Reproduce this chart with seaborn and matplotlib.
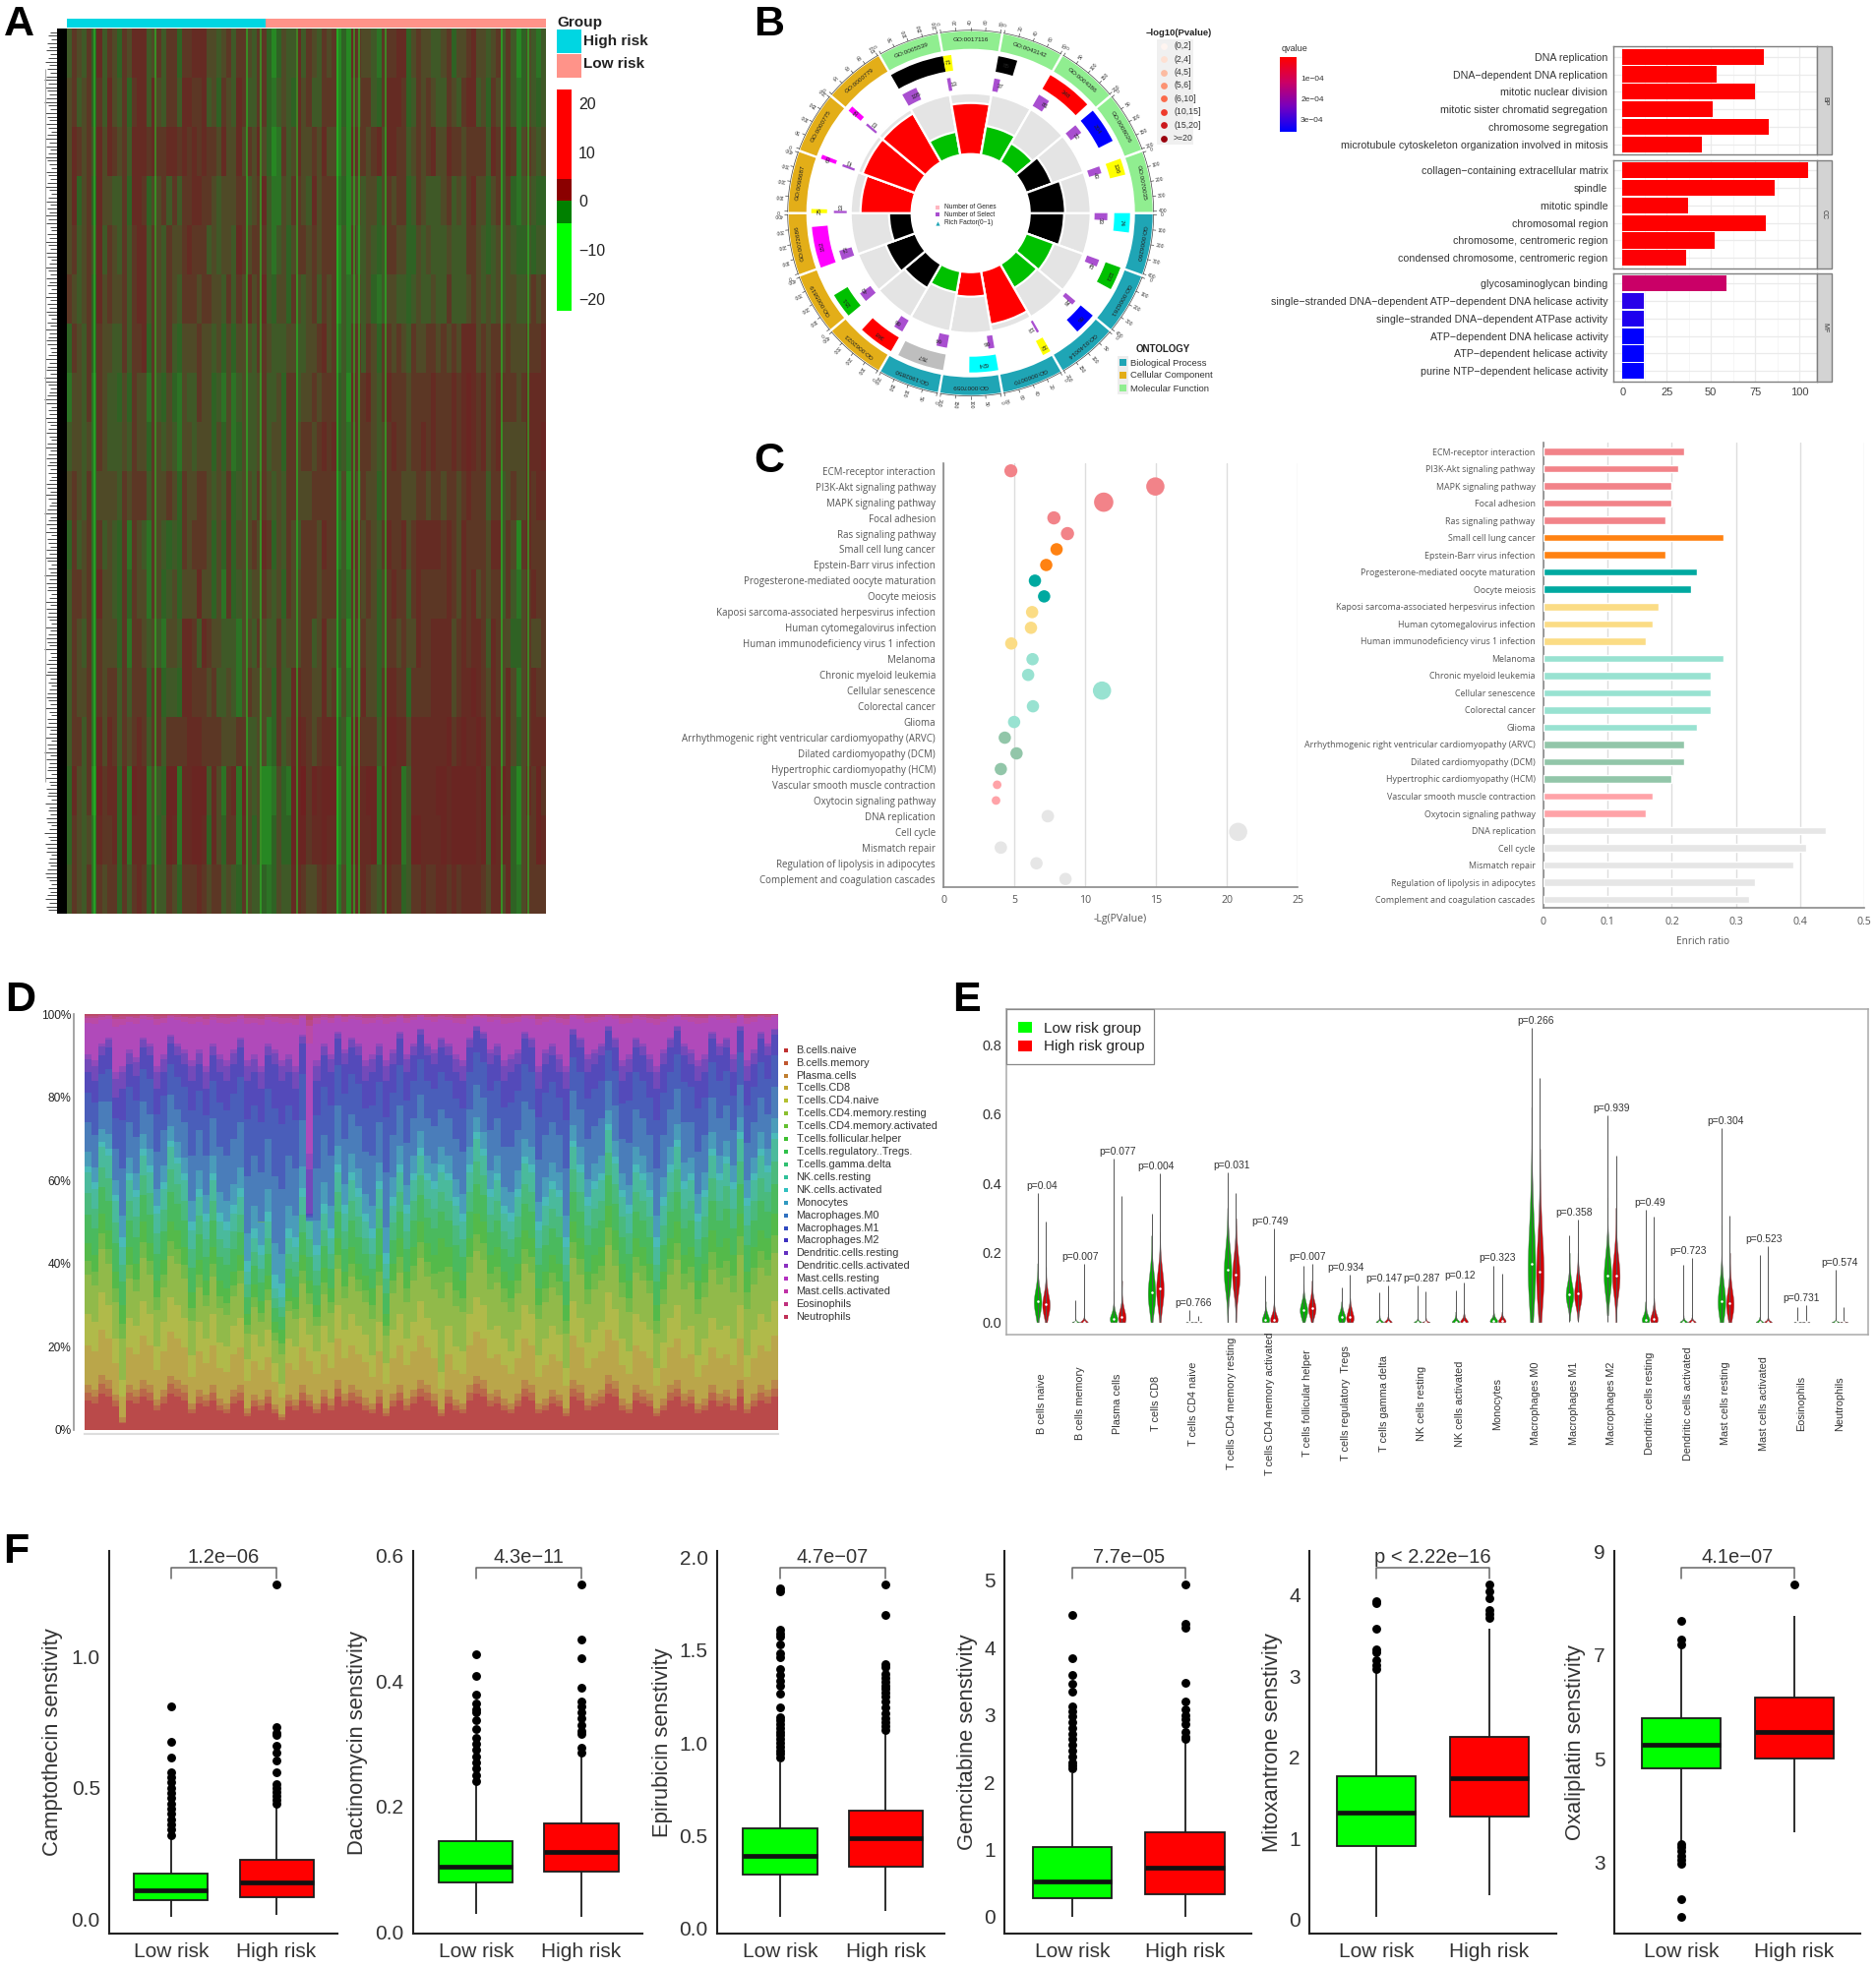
import numpy as np
import pandas as pd
import matplotlib
matplotlib.use("Agg")
import matplotlib.pyplot as plt
import seaborn as sns
from matplotlib.colors import LinearSegmentedColormap, ListedColormap
from matplotlib.patches import Rectangle

W, H = 1907, 2001

# ---- panel A ----
heat_rows = [
    "465463746536577745646636677755456466546631354474654656131765542666773565544563556755456464135424",
    "564563647546367747546647766745365476446632454375644666131656643677763465654465467745365464235434",
    "576564757656477767667767676766575575657531264575565755141766567577664565675576656666476476256545",
    "573563755446377635564646677665455566456742254665475666231554553565663465444564546755356463245433",
    "564564746546467746546556766645455476566642453566565666141644543466553354544454446654345454334344",
    "654563756556467746546546665665546465756743553654564656142554532455443454454464445654545455445656",
    "365463655446466736546435556554535355546654445544556756242664653665654655665656577756566565556667",
    "255462654435365526435325446553425245445644536645565666341766754676665666676667678767567666567777",
    "455452654445465536545425545553535235445645536656656767342666654567665667676667678767567555557778",
    "565462555546566646556536556654546345546654546655566666251656553566655566566566567666466456557677",
    "364562645436265426543436566653536355565763546546665766241765654676675677777676576666577465167666",
    "466562755436365526534535557553526345455654536556665666342665653567664676666676576756566464256766",
    "465462655536266545425547764765544425546544645556645755351656553566565576677775676776476553356556",
    "465562656646466636634437766656445425655553644776655756252657553677663666677775677876576575256766",
    "466462757646567646646666777666655566445523645787656777341776664688775777777786787787577575356777",
    "375461867737287725438827788847526728545112532889687888141887882787724777778878888878487873157686",
    "365452766737277725348727788737536627535113533888677877141887782787724887777878888878487773156687",
    "465462656636467636446536667656645436544323544776556766251677654676634667667767677776577573256666",
]
streak_cols = [5.1, 17.2, 35.6, 38.3, 45.6, 53.7, 57.0, 58.0, 63.3, 86.7, 92.0]
bar_high_n, bar_low_n = 207, 292
dend_lengths = [7, 9, 6, 10, 8, 11, 7, 9, 12, 8, 10, 7, 11, 13, 9, 12, 10, 8, 11, 13, 9, 7, 12, 10, 8, 11, 9, 6, 10, 12,
                8, 11, 7, 9, 12, 10, 8, 6, 11, 9, 7, 10, 12, 8, 6, 9, 11, 7, 10, 8, 12, 9, 11, 7, 6, 10, 8, 12, 9, 7,
                11, 10, 6, 8, 12, 9, 7, 11, 8, 10, 6, 9, 12, 7, 10, 8, 11, 9, 6, 10, 7, 12, 8, 9, 11, 10, 7, 6, 9, 12,
                8, 10, 11, 7, 13, 12, 9, 7, 8, 10, 13, 11, 6, 9, 8, 12, 10, 7, 9, 11, 8, 6, 10, 12, 7, 9, 11, 8, 10, 7,
                9, 6, 8, 11, 10, 7, 12, 9, 6, 8, 10, 13, 7, 9, 11, 8, 12, 6, 10, 9, 7, 11, 8, 12, 10, 6, 9, 7, 13, 8,
                11, 9, 10, 6, 8, 12, 7, 11, 9, 10, 8, 6, 12, 7, 9, 11, 10, 8, 13, 7, 6, 9, 11, 8, 10, 12, 7, 9, 6, 8,
                10, 11, 9, 7, 12, 8, 6, 10, 9, 11, 7, 8, 12, 6, 10, 9, 13, 7, 11, 8, 9, 10, 6, 12, 8, 7, 11, 9, 10, 6,
                12, 8, 9, 7, 11, 10, 6, 8, 13, 9, 7, 12, 10, 11, 6, 8, 9, 7, 10, 12, 11, 8, 6, 9, 7, 10, 12, 8, 11, 9]
cbar_edges = [-22.4, -4.6, 0, 4.6, 22.8]
cbar_colors = ["#00FF00", "#008000", "#8B0000", "#FF0000"]

# ---- panel B circle, clockwise from 3 o'clock ----
go_ids = ["GO:0006260", "GO:0006261", "GO:0140014", "GO:0000070", "GO:0007059", "GO:1902850",
          "GO:0062023", "GO:0005819", "GO:0072686", "GO:0098687", "GO:0000775", "GO:0000779",
          "GO:0005539", "GO:0017116", "GO:0043142", "GO:0004386", "GO:0008026", "GO:0070035"]
ring_colors = ["#1FA5B5"] * 6 + ["#E3AE18"] * 6 + ["#90EE90"] * 6
rich_tops = [95, 90, 88, 115, 85, 82, 88, 92, 83, 112, 117, 117, 84, 112, 90, 82, 88, 96]
rich_colors = ["black", "#00C000", "#00C000", "red", "red", "#00C000", "black", "black", "black",
               "red", "red", "red", "#00C000", "red", "#00C000", "#00C000", "black", "black"]
gene_widths = [7, 8.5, 8, 3, 10.5, 17, 13, 9, 15, 1.5, 1.5, 2, 20, 3, 7, 17, 13, 6]
gene_colors = ["cyan", "#00C000", "blue", "yellow", "cyan", "#BEBEBE", "red", "#00C000", "magenta",
               "yellow", "magenta", "magenta", "black", "yellow", "black", "red", "blue", "yellow"]
gene_labels = ["74", "133", "86", "32", "624", "767", "348", "151", "152", "25", "60", "55", "", "71", "85", "348", "204", "136"]
select_widths = [3, 3, 2, 1, 2.5, 4.5, 4, 4, 4, 1, 1, 1, 6.5, 1.5, 2.5, 5, 4, 3]
select_labels = ["33", "42", "28", "13", "66", "64", "66", "43", "73", "13", "12", "13", "105", "13", "37", "81", "72", "43"]
ring_tick_labels = [["0", "100", "200", "300", "400"], ["0", "100", "200", "300", "400"], ["0", "50", "100", "150", "200"],
                    ["0", "20", "40", "60", "80"], ["0", "50", "100", "150", "200"], ["0", "50", "100", "150", "200"],
                    ["0", "100", "200", "300", "400"], ["0", "100", "200", "300", "400"], ["0", "100", "200", "300", "400"],
                    ["0", "100", "200", "300", "400"], ["0", "50", "100", "150", "200"], ["0", "30", "60", "90", "120"],
                    ["0", "50", "100", "150", "200"], ["0", "20", "40", "60", "80"], ["0", "20", "40", "60", "80"],
                    ["0", "50", "100", "150", "200"], ["0", "50", "100", "150", "200"], ["0", "100", "200", "300", "400"]]
pval_levels = ["(0,2]", "(2,4]", "(4,5]", "(5,6]", "(6,10]", "(10,15]", "(15,20]", ">=20"]
pval_colors = ["#FFF5F0", "#FEE0D2", "#FCBBA1", "#FC9272", "#FB6A4A", "#EF3B2C", "#CB181D", "#99000D"]
ontology_names = ["Biological Process", "Cellular Component", "Molecular Function"]
ontology_colors = ["#1FA5B5", "#E3AE18", "#90EE90"]

# ---- panel B bars ----
go_bp = ["DNA replication", "DNA\u2212dependent DNA replication", "mitotic nuclear division",
         "mitotic sister chromatid segregation", "chromosome segregation",
         "microtubule cytoskeleton organization involved in mitosis"]
go_cc = ["collagen\u2212containing extracellular matrix", "spindle", "mitotic spindle", "chromosomal region",
         "chromosome, centromeric region", "condensed chromosome, centromeric region"]
go_mf = ["glycosaminoglycan binding", "single\u2212stranded DNA\u2212dependent ATP\u2212dependent DNA helicase activity",
         "single\u2212stranded DNA\u2212dependent ATPase activity", "ATP\u2212dependent DNA helicase activity",
         "ATP\u2212dependent helicase activity", "purine NTP\u2212dependent helicase activity"]
count_bp = [80, 53, 75, 51, 83, 45]
count_cc = [105, 86, 37, 81, 52, 36]
count_mf = [59, 12, 12, 12, 12, 12]
q_bp = [0.01, 0.01, 0.01, 0.01, 0.01, 0.02]
q_cc = [0.01, 0.01, 0.02, 0.01, 0.02, 0.06]
q_mf = [1.2, 3.1, 3.2, 3.5, 3.5, 3.5]

# ---- panel C ----
pathways = ["ECM-receptor interaction", "PI3K-Akt signaling pathway", "MAPK signaling pathway", "Focal adhesion",
            "Ras signaling pathway", "Small cell lung cancer", "Epstein-Barr virus infection",
            "Progesterone-mediated oocyte maturation", "Oocyte meiosis", "Kaposi sarcoma-associated herpesvirus infection",
            "Human cytomegalovirus infection", "Human immunodeficiency virus 1 infection", "Melanoma",
            "Chronic myeloid leukemia", "Cellular senescence", "Colorectal cancer", "Glioma",
            "Arrhythmogenic right ventricular cardiomyopathy (ARVC)", "Dilated cardiomyopathy (DCM)",
            "Hypertrophic cardiomyopathy (HCM)", "Vascular smooth muscle contraction", "Oxytocin signaling pathway",
            "DNA replication", "Cell cycle", "Mismatch repair", "Regulation of lipolysis in adipocytes",
            "Complement and coagulation cascades"]
path_lgp = [4.74, 14.95, 11.3, 7.78, 8.74, 7.97, 7.24, 6.44, 7.09, 6.24, 6.16, 4.77, 6.27, 5.96, 11.18, 6.3, 4.97,
            4.31, 5.14, 4.03, 3.77, 3.69, 7.35, 20.8, 4.03, 6.55, 8.6]
path_counts = [68, 142, 160, 70, 70, 60, 60, 60, 60, 60, 60, 60, 60, 60, 142, 60, 60, 60, 60, 60, 25, 25, 62, 142, 62, 60, 60]
path_ratio = [.22, .21, .20, .20, .19, .28, .19, .24, .23, .18, .17, .16, .28, .26, .26, .26, .24, .22, .22, .20, .17, .16,
              .44, .41, .39, .33, .32]
path_group_sizes = [5, 2, 2, 3, 5, 3, 2, 5]
path_group_colors = ["#F28389", "#FF8212", "#00A9A0", "#FBDC85", "#98E2D1", "#92C6A9", "#FFA3A8", "#E6E6E6"]

# ---- panel D ----
cell_names = ["B.cells.naive", "B.cells.memory", "Plasma.cells", "T.cells.CD8", "T.cells.CD4.naive",
              "T.cells.CD4.memory.resting", "T.cells.CD4.memory.activated", "T.cells.follicular.helper",
              "T.cells.regulatory..Tregs.", "T.cells.gamma.delta", "NK.cells.resting", "NK.cells.activated", "Monocytes",
              "Macrophages.M0", "Macrophages.M1", "Macrophages.M2", "Dendritic.cells.resting",
              "Dendritic.cells.activated", "Mast.cells.resting", "Mast.cells.activated", "Eosinophils", "Neutrophils"]
cell_band = [0, 0, 1, 1, 1, 2, 2, 2, 3, 3, 3, 4, 4, 4, 4, 4, 5, 5, 5, 5, 5, 5]
cell_share = [.8, .2, .1, .5, .4, .55, .2, .25, .4, .3, .3, .06, .14, .3, .3, .2, .22, .08, .55, .09, .03, .03]
top_red = [9, 8, 11, 10, 7, 2, 9, 8, 10, 9, 6, 8, 11, 10, 9, 5, 8, 7, 9, 6,
           5, 8, 9, 4, 7, 6, 8, 5, 3, 7, 6, 9, 7, 5, 8, 6, 10, 7, 9, 8,
           6, 5, 8, 4, 7, 9, 6, 8, 10, 9, 7, 4, 8, 6, 5, 9, 11, 10, 7, 8,
           6, 5, 7, 10, 9, 5, 6, 8, 7, 4, 10, 9, 6, 7, 8, 11, 10, 6, 5, 9,
           8, 7, 4, 6, 9, 10, 7, 8, 5, 6, 9, 7, 8, 6, 10, 5, 7, 9, 8, 10]
top_olive = [28, 26, 33, 30, 22, 12, 27, 25, 31, 28, 20, 26, 32, 30, 27, 18, 26, 22, 28, 21,
             20, 25, 27, 17, 23, 20, 24, 16, 11, 22, 20, 27, 23, 19, 25, 21, 30, 24, 28, 25,
             23, 18, 26, 16, 24, 28, 22, 26, 31, 27, 24, 14, 25, 20, 19, 28, 32, 30, 24, 25,
             22, 19, 24, 30, 28, 18, 22, 25, 23, 15, 31, 27, 21, 24, 26, 33, 29, 22, 19, 28,
             26, 24, 15, 21, 27, 30, 24, 25, 18, 22, 27, 24, 25, 22, 30, 18, 24, 28, 26, 31]
top_green = [45, 42, 52, 48, 38, 30, 44, 40, 50, 45, 36, 41, 50, 48, 44, 33, 41, 36, 44, 36,
             34, 38, 42, 28, 35, 31, 37, 26, 24, 34, 32, 42, 36, 30, 39, 34, 46, 38, 44, 40,
             37, 34, 42, 28, 40, 46, 38, 44, 50, 45, 42, 46, 44, 38, 36, 46, 52, 50, 42, 44,
             38, 36, 40, 48, 46, 34, 38, 42, 40, 30, 50, 46, 38, 42, 44, 54, 48, 40, 36, 46,
             44, 40, 30, 38, 46, 50, 42, 44, 36, 40, 48, 44, 46, 42, 52, 38, 44, 48, 46, 52]
top_teal = [62, 58, 68, 66, 55, 44, 60, 56, 66, 62, 52, 58, 68, 64, 60, 48, 56, 50, 60, 50,
            48, 52, 56, 38, 46, 42, 50, 34, 32, 46, 44, 56, 50, 42, 52, 46, 62, 52, 60, 56,
            50, 46, 58, 40, 54, 62, 52, 60, 66, 60, 58, 62, 60, 54, 50, 62, 70, 66, 56, 60,
            52, 50, 56, 64, 62, 48, 54, 58, 56, 44, 68, 62, 54, 58, 60, 72, 64, 56, 52, 62,
            60, 56, 44, 54, 62, 68, 58, 60, 50, 56, 66, 60, 64, 58, 70, 54, 60, 66, 62, 70]
top_blue = [86, 84, 90, 92, 80, 82, 88, 85, 92, 90, 82, 86, 93, 90, 88, 84, 88, 82, 90, 86,
            84, 88, 92, 84, 86, 82, 90, 88, 84, 86, 82, 93, 52, 84, 90, 86, 94, 88, 92, 90,
            84, 86, 90, 84, 88, 94, 86, 90, 95, 90, 88, 92, 90, 86, 84, 92, 96, 94, 88, 90,
            84, 86, 88, 94, 92, 82, 88, 90, 86, 82, 95, 92, 86, 88, 90, 96, 92, 84, 86, 92,
            90, 86, 82, 88, 92, 96, 90, 88, 84, 86, 94, 90, 92, 86, 96, 84, 88, 94, 90, 95]

# ---- panel E ----
immune_names = ["B cells naive", "B cells memory", "Plasma cells", "T cells CD8", "T cells CD4 naive",
                "T cells CD4 memory resting", "T cells CD4 memory activated", "T cells follicular helper",
                "T cells regulatory  Tregs", "T cells gamma delta", "NK cells resting", "NK cells activated", "Monocytes",
                "Macrophages M0", "Macrophages M1", "Macrophages M2", "Dendritic cells resting",
                "Dendritic cells activated", "Mast cells resting", "Mast cells activated", "Eosinophils", "Neutrophils"]
immune_p = ["0.04", "0.007", "0.077", "0.004", "0.766", "0.031", "0.749", "0.007", "0.934", "0.147", "0.287", "0.12",
            "0.323", "0.266", "0.358", "0.939", "0.49", "0.723", "0.304", "0.523", "0.731", "0.574"]
low_max = [.372, .064, .471, .313, .034, .433, .135, .164, .099, .086, .107, .091, .164, .849, .25, .596, .324, .165, .561, .195, .0435, .151]
high_max = [.291, .168, .364, .43, .017, .372, .27, .168, .137, .107, .09, .114, .14, .704, .296, .48, .305, .185, .308, .22, .05, .0425]
# seven read-off levels of each violin, body_weights says how many samples sit at each level
body_weights = [1, 3, 6, 8, 6, 3, 1]
low_body = [[0, .02, .04, .06, .08, .11, .17], [0, 0, 0, 0, .002, .005, .01], [0, 0, .005, .01, .02, .04, .09],
            [0, .03, .06, .085, .12, .16, .25], [0, 0, 0, 0, 0, .001, .003], [0, .09, .12, .15, .19, .24, .33],
            [0, 0, .004, .008, .02, .03, .06], [0, .01, .025, .035, .05, .07, .11], [0, 0, .007, .015, .025, .04, .06],
            [0, 0, 0, 0, .004, .01, .02], [0, 0, 0, 0, .003, .008, .015], [0, 0, 0, 0, .006, .015, .03],
            [0, 0, 0, .005, .01, .02, .035], [0, .06, .11, .167, .25, .37, .62], [.005, .05, .065, .08, .1, .13, .2],
            [.02, .08, .11, .134, .17, .22, .36], [0, 0, .004, .008, .02, .04, .06], [0, 0, 0, 0, .004, .01, .02],
            [0, .02, .04, .062, .09, .14, .28], [0, 0, 0, 0, .004, .008, .015], [0, 0, 0, 0, 0, .001, .002],
            [0, 0, 0, 0, .002, .005, .012]]
high_body = [[0, .02, .035, .052, .07, .1, .16], [0, 0, 0, 0, .005, .01, .02], [0, 0, .006, .014, .03, .05, .12],
             [0, .04, .07, .097, .13, .17, .26], [0, 0, 0, 0, 0, .001, .003], [0, .08, .11, .137, .17, .22, .3],
             [0, 0, .004, .008, .02, .04, .08], [0, .015, .03, .04, .055, .08, .12], [0, 0, .007, .015, .03, .045, .07],
             [0, 0, 0, 0, .005, .012, .025], [0, 0, 0, 0, .002, .006, .012], [0, 0, 0, .002, .008, .02, .04],
             [0, 0, 0, .005, .01, .018, .03], [0, .05, .1, .147, .22, .32, .5], [.005, .05, .065, .082, .11, .14, .2],
             [0, .08, .11, .134, .17, .22, .33], [0, 0, .005, .01, .025, .045, .07], [0, 0, 0, 0, .004, .01, .022],
             [0, .02, .035, .055, .08, .12, .2], [0, 0, 0, 0, .004, .01, .018], [0, 0, 0, 0, 0, .001, .002],
             [0, 0, 0, 0, .001, .003, .006]]
low_median = [.06, 0, .01, .085, 0, .15, .008, .035, .015, 0, 0, 0, .005, .167, .08, .134, .008, 0, .062, 0, 0, 0]
high_median = [.052, 0, .014, .097, 0, .137, .008, .04, .015, 0, 0, 0, .005, .147, .082, .134, .01, 0, .055, 0, 0, 0]

# ---- panel F: [low whisker, q1, median, q3, high whisker] ----
drug_names = ["Camptothecin", "Dactinomycin", "Epirubicin", "Gemcitabine", "Mitoxantrone", "Oxaliplatin"]
drug_p = ["1.2e\u221206", "4.3e\u221211", "4.7e\u221207", "7.7e\u221205", "p < 2.22e\u221216", "4.1e\u221207"]
drug_low = [[.0075, .0725, .11, .171, .304], [.028, .079, .1045, .144, .234], [.062, .29, .392, .537, .896],
            [0, .278, .52, 1.033, 2.13], [.03, .91, 1.32, 1.77, 3.05], [3.42, 4.81, 5.27, 5.79, 7.15]]
drug_high = [[.016, .084, .139, .226, .43], [.024, .096, .127, .1725, .281], [.095, .334, .484, .634, 1.055],
             [0, .34, .726, 1.25, 2.62], [.3, 1.27, 1.745, 2.25, 3.58], [3.58, 5.01, 5.52, 6.18, 7.75]]
out_low = [[.81, .675, .615, .56, .54, .52, .5, .48, .46, .44, .42, .4, .38, .36, .34, .32],
           [.443, .408, .378, .365, .355, .35, .337, .323, .31, .3, .29, .28, .27, .26, .25, .24],
           [1.83, 1.815, 1.61, 1.59, 1.575, 1.53, 1.48, 1.46, 1.4, 1.365, 1.335, 1.31, 1.263, 1.19, 1.14, 1.12, 1.1, 1.08, 1.06, 1.04, 1.02, 1.0, .98, .96, .94, .92],
           [4.49, 3.85, 3.59, 3.47, 3.35, 3.13, 3.05, 2.98, 2.9, 2.81, 2.72, 2.65, 2.55, 2.47, 2.38, 2.3, 2.25, 2.2],
           [3.92, 3.9, 3.58, 3.33, 3.29, 3.19, 3.14, 3.09],
           [7.65, 7.3, 7.2, 3.36, 3.3, 3.22, 3.13, 3.05, 2.98, 2.29, 1.96]]
out_high = [[1.275, .73, .71, .7, .66, .635, .605, .56, .515, .5, .485, .47, .455, .44],
            [.554, .466, .437, .39, .367, .36, .35, .34, .33, .32, .315, .294, .286],
            [1.853, 1.69, 1.425, 1.41, 1.37, 1.35, 1.33, 1.31, 1.29, 1.27, 1.25, 1.22, 1.19, 1.16, 1.13, 1.11, 1.09, 1.07],
            [4.94, 4.35, 4.3, 3.48, 3.2, 3.08, 3.0, 2.93, 2.86, 2.74, 2.68, 2.64],
            [4.13, 4.04, 3.96, 3.82, 3.77, 3.72],
            [8.36]]
drug_ylim = [(-.056, 1.404), (-.003, .608), (-.028, 2.035), (-.249, 5.44), (-.174, 4.545), (1.636, 9.01)]
drug_ticks = [[0, .5, 1], [0, .2, .4, .6], [0, .5, 1, 1.5, 2], [0, 1, 2, 3, 4, 5], [0, 1, 2, 3, 4], [3, 5, 7, 9]]
drug_tick_fmt = ["%.1f", "%.1f", "%.1f", "%d", "%d", "%d"]
drug_boxes = [(110.8, 343, 173.9), (419.5, 652.8, 483.8), (728.7, 960, 793),
              (1020.8, 1271.7, 1089.8), (1331, 1581.9, 1399), (1640.5, 1891, 1708.9)]
drug_spacing = [107.2, 107.2, 107.2, 114.8, 114.8, 114.8]


def add_axes_px(fig, left, top, right, bottom, **kw):
    return fig.add_axes([left / W, 1 - bottom / H, (right - left) / W, (bottom - top) / H], **kw)


def draw_panel_a(fig, ov):
    ax = add_axes_px(fig, 68, 29, 555, 929)
    ncol = max(len(r) for r in heat_rows)
    mat = np.array([[int(c) for c in r.ljust(ncol, "5")] for r in heat_rows])
    cmap = LinearSegmentedColormap.from_list("heat", [(0.0, "#1FA01F"), (.15, "#2A7E25"), (.33, "#2E6224"), (.5, "#485428"),
                                                      (.72, "#632E24"), (1.0, "#6E2020")])
    sns.heatmap(mat, cmap=cmap, vmin=0, vmax=9, cbar=False, xticklabels=False, yticklabels=False, ax=ax)
    ax.vlines(np.array(streak_cols) + .5, 0, len(heat_rows), color="#25C825", lw=1.1, alpha=.7)

    ax2 = add_axes_px(fig, 68, 19, 555, 28)
    sns.heatmap([[0] * bar_high_n + [1] * bar_low_n], cmap=ListedColormap(["#00D6E2", "#FF9389"]), cbar=False,
                xticklabels=False, yticklabels=False, ax=ax2)

    # row names squeezed into a black strip, dendrogram next to it
    ov.add_patch(Rectangle((58, 29), 10, 900, color="black", lw=0))
    ax3 = add_axes_px(fig, 44, 29, 58, 929)
    ypos = np.arange(len(dend_lengths))
    ax3.hlines(ypos, 14 - np.array(dend_lengths), 14, color="#444444", lw=.7)
    ax3.vlines(1.5, 10, len(dend_lengths) * .85, color="#AAAAAA", lw=.8)
    ax3.set_xlim(0, 14)
    ax3.set_ylim(len(dend_lengths), -1)
    ax3.axis("off")

    ov.text(566, 23, "Group", fontsize=11, fontweight="bold", va="center", color="#222222")
    ov.add_patch(Rectangle((566, 30), 24.6, 24.5, color="#00D6E2", lw=0))
    ov.add_patch(Rectangle((566, 55), 24.6, 24.5, color="#FF9389", lw=0))
    ov.text(593, 42, "High risk", fontsize=11, fontweight="bold", va="center", color="#222222")
    ov.text(593, 65, "Low risk", fontsize=11, fontweight="bold", va="center", color="#222222")

    cax = add_axes_px(fig, 566, 91, 581, 316)
    cax.bar(0, np.diff(cbar_edges), bottom=cbar_edges[:-1], width=1, color=cbar_colors, lw=0)
    cax.set_xlim(-.5, .5)
    cax.set_ylim(cbar_edges[0], cbar_edges[-1])
    cax.set_xticks([])
    cax.set_yticks([-20, -10, 0, 10, 20], ["\u221220", "\u221210", "0", "10", "20"])
    cax.yaxis.tick_right()
    cax.tick_params(axis="y", length=0, pad=5, labelsize=11.5, colors="#222222")
    sns.despine(ax=cax, left=True, bottom=True, right=True, top=True)


def draw_panel_b_circle(fig, ov):
    ax = add_axes_px(fig, 786.7, 16.7, 1186.7, 416.7, projection="polar")
    ax.set_ylim(0, 200)
    ax.axis("off")
    for i in range(18):
        start = -20.0 * i
        mid = start - 10
        # rich factor ring
        ax.bar(np.deg2rad(mid), 62, np.deg2rad(20), bottom=60, color="#E4E4E4", edgecolor="white", lw=1.6)
        ax.bar(np.deg2rad(mid), rich_tops[i] - 60, np.deg2rad(20), bottom=60, color=rich_colors[i], edgecolor="white", lw=1.6)
        # selected genes and all genes, both start from the sector's leading edge
        w = select_widths[i]
        ax.bar(np.deg2rad(start - w / 2), 13, np.deg2rad(w), bottom=126, color="#A94FD0", lw=0)
        w2 = gene_widths[i]
        ax.bar(np.deg2rad(start - w2 / 2), 16, np.deg2rad(w2), bottom=146, color=gene_colors[i], lw=0)
        ax.text(np.deg2rad(start - w / 2 - 2), 132, select_labels[i], fontsize=4.5, ha="center", va="center",
                rotation=start - w / 2 - 90, color="#222222")
        ax.text(np.deg2rad(start - w2 / 2), 154, gene_labels[i], fontsize=4.5, ha="center", va="center",
                rotation=start - w2 / 2 - 90, color="#222222")
        # outer ring with ids and scale
        ax.bar(np.deg2rad(mid), 18, np.deg2rad(19.2), bottom=167, color=ring_colors[i], lw=0)
        ax.text(np.deg2rad(mid), 176, go_ids[i], fontsize=4.6, ha="center", va="center", rotation=mid - 90, color="#222222")
        arc = np.deg2rad(np.linspace(start - .4, start - 19.6, 20))
        ax.plot(arc, np.full(20, 186.0), color="#444444", lw=.5)
        for k in range(5):
            th = start - .6 - 4.7 * k
            ax.plot(np.deg2rad([th, th]), [186, 189], color="#444444", lw=.5)
            ax.text(np.deg2rad(th), 195, ring_tick_labels[i][k], fontsize=3.6, ha="center", va="center",
                    rotation=th, color="#333333")
    # legend in the centre hole
    center_names = ["Number of Genes", "Number of Select", "Rich Factor(0~1)"]
    center_cols = ["#FFB6C1", "#A94FD0", "#1FA5B5"]
    for name, col, y, mk in zip(center_names, center_cols, [210.7, 218.3, 226.7], ["s", "s", "^"]):
        ov.scatter([953], [y], s=9, marker=mk, color=col, lw=0)
        ov.text(960, y, name, fontsize=4.8, va="center", color="#222222")

    ov.text(1198, 33, "\u2212log10(Pvalue)", fontsize=6.8, fontweight="bold", ha="center", va="center", color="#222222")
    ov.add_patch(Rectangle((1176, 40), 37, 107, color="#F0F0F0", lw=0))
    for k, (lev, col) in enumerate(zip(pval_levels, pval_colors)):
        y = 46.7 + 13.43 * k
        ov.scatter([1183], [y], s=24, color=col, lw=0)
        ov.text(1193, y, lev, fontsize=6.3, va="center", color="#333333")
    ov.text(1182.7, 355, "ONTOLOGY", fontsize=7, fontweight="bold", ha="center", va="center", color="#222222")
    for k, (name, col) in enumerate(zip(ontology_names, ontology_colors)):
        y = 369 + 13 * k
        ov.add_patch(Rectangle((1136, y - 6.5), 11, 13, color="#EDEDED", lw=0))
        ov.add_patch(Rectangle((1138, y - 3.5), 7, 7, color=col, lw=0))
        ov.text(1149, y, name, fontsize=6.8, va="center", color="#333333")


def draw_panel_b_bars(fig, ov):
    stops = [(0, "#FF0000"), (.33, "#CD0064"), (.66, "#7800BE"), (1, "#0000FF")]
    cmap = LinearSegmentedColormap.from_list("q", stops)
    frames = [(47.3, 157.3, go_bp, count_bp, q_bp, "BP"), (162.7, 272.7, go_cc, count_cc, q_cc, "CC"),
              (277.7, 387.7, go_mf, count_mf, q_mf, "MF")]
    for top, bottom, names, counts, qs, strip in frames:
        ax = add_axes_px(fig, 1640, top, 1846.8, bottom)
        cols = [cmap(q / 3.5) for q in qs]
        sns.barplot(x=counts, y=names, hue=names, palette=cols, order=names, hue_order=names, legend=False, width=.9,
                    saturation=1, ax=ax, edgecolor="none", zorder=3)
        ax.set_xlim(-5.2, 109.9)
        ax.set_ylim(5.58, -.58)
        ax.set_xticks([0, 25, 50, 75, 100])
        ax.set_xticks([12.5, 37.5, 62.5, 87.5], minor=True)
        ax.grid(True, which="major", color="#EBEBEB", lw=.9)
        ax.grid(True, which="minor", axis="x", color="#F3F3F3", lw=.5)
        ax.set_axisbelow(True)
        ax.tick_params(axis="y", length=2.5, width=.7, color="#555555", pad=1.5, labelsize=7.65, labelcolor="#333333")
        ax.tick_params(axis="x", which="minor", length=0)
        if strip == "MF":
            ax.tick_params(axis="x", length=2.5, width=.7, color="#555555", labelsize=8, labelcolor="#444444", pad=2)
        else:
            ax.tick_params(axis="x", length=0, labelbottom=False)
        for s in ax.spines.values():
            s.set_color("#7F7F7F")
            s.set_linewidth(1)
        ov.add_patch(Rectangle((1846.8, top), 15.2, bottom - top, facecolor="#D3D3D3", edgecolor="#7F7F7F", lw=1))
        ov.text(1854.4, (top + bottom) / 2, strip, fontsize=5, rotation=-90, ha="center", va="center", color="#333333")

    cax = add_axes_px(fig, 1301, 58, 1318, 134)
    grad = np.linspace(0, 3.57, 100).reshape(-1, 1)
    cax.imshow(grad, cmap=cmap, aspect="auto", extent=[0, 1, 3.57, 0], vmin=0, vmax=3.57)
    cax.set_xticks([])
    cax.set_yticks([1, 2, 3], ["1e\u221204", "2e\u221204", "3e\u221204"])
    cax.yaxis.tick_right()
    cax.tick_params(axis="y", length=0, pad=3, labelsize=6, labelcolor="#333333")
    sns.despine(ax=cax, left=True, bottom=True, right=True, top=True)
    ov.text(1316, 49, "qvalue", fontsize=6.5, ha="center", va="center", color="#333333")


def style_path_axis(ax, names, labelsize):
    n = len(names)
    ax.set_yticks(np.arange(-.5, n, 1), [""] * (n + 1))
    ax.set_yticks(np.arange(n), names, minor=True)
    ax.set_ylim(n - .5, -.5)
    ax.tick_params(axis="y", which="minor", length=0, pad=6, labelsize=labelsize, labelcolor="#555555")
    ax.tick_params(axis="y", which="major", length=3, width=.8, color="#888888")
    ax.tick_params(axis="x", length=3, width=.8, color="#888888", labelsize=7.6, labelcolor="#555555", pad=3)
    ax.xaxis.grid(True, color="#DDDDDD", lw=1)
    ax.set_axisbelow(True)
    sns.despine(ax=ax)
    for side in ["left", "bottom"]:
        ax.spines[side].set_color("#8A8A8A")
        ax.spines[side].set_linewidth(1.2)


def draw_panel_c(fig):
    groups = np.repeat(np.arange(len(path_group_sizes)), path_group_sizes)
    cols = [path_group_colors[g] for g in groups]

    ax = add_axes_px(fig, 959.4, 470.7, 1319, 901.7)
    df = pd.DataFrame({"lgp": path_lgp, "row": np.arange(len(pathways)), "group": groups, "count": path_counts})
    sns.scatterplot(data=df, x="lgp", y="row", hue="group", palette=path_group_colors, size="count", sizes=(40, 200),
                    size_norm=(25, 160), linewidth=0, legend=False, ax=ax, zorder=3, clip_on=False)
    ax.set_xlim(0, 25)
    ax.set_xticks([0, 5, 10, 15, 20, 25])
    style_path_axis(ax, pathways, 7)
    ax.set_xlabel("")
    ax.set_ylabel("")
    for t in ax.get_xticklabels() + ax.get_yticklabels(minor=True):
        t.set_fontfamily(["Open Sans", "DejaVu Sans"])

    ax2 = add_axes_px(fig, 1569, 450.3, 1895, 923.4)
    sns.barplot(x=path_ratio, y=pathways, hue=pathways, palette=cols, order=pathways, hue_order=pathways, legend=False,
                width=.43, saturation=1, ax=ax2, zorder=3)
    ax2.set_xlim(0, .5)
    ax2.set_xticks([0, .1, .2, .3, .4, .5], ["0", "0.1", "0.2", "0.3", "0.4", "0.5"])
    style_path_axis(ax2, pathways, 6.4)
    for t in ax2.get_xticklabels() + ax2.get_yticklabels(minor=True):
        t.set_fontfamily(["Open Sans", "DejaVu Sans"])


def draw_panel_d(fig, ov):
    ax = add_axes_px(fig, 85.7, 1031, 791, 1454)
    bounds = np.array([np.zeros(100), top_red, top_olive, top_green, top_teal, top_blue, np.full(100, 100)], dtype=float)
    thick = np.clip(np.diff(bounds, axis=0), 0, None)
    rows = []
    for c, name in enumerate(cell_names):
        rows.append(pd.DataFrame({"sample": np.arange(100), "cell": name, "share": thick[cell_band[c]] * cell_share[c]}))
    df = pd.concat(rows, ignore_index=True)
    legend_cols = sns.hls_palette(22, h=0.0, l=.47, s=.6)
    pal = dict(zip(cell_names, sns.hls_palette(22, h=0.0, l=.51, s=.45)))
    ax.set_facecolor("#5FA878")
    sns.histplot(data=df, x="sample", weights="share", hue="cell", hue_order=cell_names[::-1], palette=pal, multiple="stack",
                 discrete=True, shrink=1, alpha=1, linewidth=0, antialiased=False, legend=False, ax=ax)
    ax.set_xlim(-.5, 99.5)
    ax.set_ylim(0, 100)
    ax.set_xticks([])
    ax.set_xlabel("")
    ax.set_ylabel("")
    ax.set_yticks([0, 20, 40, 60, 80, 100], ["0%", "20%", "40%", "60%", "80%", "100%"])
    ax.tick_params(axis="y", length=0, pad=1.5, labelsize=8.6, labelcolor="#222222")
    for t in ax.get_yticklabels():
        t.set_fontweight("bold")
    for side in ["top", "right"]:
        ax.spines[side].set_visible(False)
    ax.spines["left"].set_position(("outward", 8))
    ax.spines["left"].set_color("#999999")
    ax.spines["bottom"].set_position(("outward", 3))
    ax.spines["bottom"].set_color("#DDDDDD")
    ax.spines["bottom"].set_linewidth(1.5)
    for k, name in enumerate(cell_names):
        y = 1067.7 + 12.92 * k
        ov.add_patch(Rectangle((797, y - 2), 4, 4, color=legend_cols[k], lw=0))
        ov.text(809.5, y, name, fontsize=7.8, va="center", color="#333333")


def draw_panel_e(fig, ov):
    ax = add_axes_px(fig, 1023.4, 1026, 1899, 1356.7)
    rows = []
    for i, name in enumerate(immune_names):
        rows.append(pd.DataFrame({"cell": name, "group": "Low", "value": np.repeat(low_body[i], body_weights)}))
        rows.append(pd.DataFrame({"cell": name, "group": "High", "value": np.repeat(high_body[i], body_weights)}))
    df = pd.concat(rows, ignore_index=True)
    sns.violinplot(data=df, x="cell", y="value", hue="group", order=immune_names, hue_order=["Low", "High"],
                   palette={"Low": "#00AE00", "High": "#D00008"}, width=.44, gap=.1, cut=0, inner=None,
                   density_norm="width", linewidth=.3, linecolor="#666666", saturation=1, bw_adjust=1.3, legend=False, ax=ax)
    xs = np.arange(len(immune_names))
    ax.vlines(xs - .11, 0, low_max, color="#555555", lw=.7)
    ax.vlines(xs + .11, 0, high_max, color="#555555", lw=.7)
    ax.scatter(xs - .11, low_median, s=3.5, color="white", lw=0, zorder=5)
    ax.scatter(xs + .11, high_median, s=3.5, color="white", lw=0, zorder=5)
    for i, p in enumerate(immune_p):
        ax.text(i, max(low_max[i], high_max[i]) + .02, "p=" + p, fontsize=7.4, ha="center", va="center", color="#333333")
    ax.set_xlim(-.92, 21.75)
    ax.set_ylim(-.035, .903)
    ax.set_xlabel("")
    ax.set_ylabel("")
    ax.set_xticks([])
    ax.set_yticks([0, .2, .4, .6, .8], ["0.0", "0.2", "0.4", "0.6", "0.8"])
    ax.tick_params(axis="y", length=2, width=.7, pad=1.5, labelsize=10.4, labelcolor="#333333")
    for s in ax.spines.values():
        s.set_color("#AAAAAA")
        s.set_linewidth(1.1)
    for i, name in enumerate(immune_names):
        ov.text(1059 + 38.62 * i, 1427, name, rotation=90, fontsize=7.8, ha="center", va="center", color="#333333")
    ov.add_patch(Rectangle((1023.4, 1026), 149.6, 55.7, facecolor="white", edgecolor="#888888", lw=.9))
    ov.add_patch(Rectangle((1035, 1039), 14, 11, color="#00FF00", lw=0))
    ov.add_patch(Rectangle((1035, 1058), 14, 11, color="#FF0000", lw=0))
    ov.text(1061.4, 1045.7, "Low risk group", fontsize=11, va="center", color="#222222")
    ov.text(1061.4, 1064, "High risk group", fontsize=11, va="center", color="#222222")


def draw_panel_f(fig, ov):
    for i, drug in enumerate(drug_names):
        left, right, c0 = drug_boxes[i]
        sp = drug_spacing[i]
        ax = add_axes_px(fig, left, 1576.7, right, 1966)
        df = pd.DataFrame({"group": ["Low risk"] * 5 + ["High risk"] * 5, "value": drug_low[i] + drug_high[i]})
        sns.boxplot(data=df, x="group", y="value", hue="group", order=["Low risk", "High risk"],
                    palette={"Low risk": "#00FF00", "High risk": "#FF0000"}, whis=(0, 100), showfliers=False, showcaps=False,
                    width=.7, linewidth=1.3, linecolor="#1C1C1C", saturation=1, legend=False,
                    medianprops={"linewidth": 3.4, "color": "#111111"}, ax=ax)
        dots = pd.DataFrame({"group": ["Low risk"] * len(out_low[i]) + ["High risk"] * len(out_high[i]),
                             "value": out_low[i] + out_high[i]})
        sns.stripplot(data=dots, x="group", y="value", order=["Low risk", "High risk"], jitter=False, color="black", size=6.4,
                      linewidth=0, ax=ax)
        ax.set_xlim((left - c0) / sp, (right - c0) / sp)
        ax.set_ylim(*drug_ylim[i])
        ax.set_xlabel("")
        ax.set_ylabel("")
        ax.set_yticks(drug_ticks[i], [drug_tick_fmt[i] % t for t in drug_ticks[i]])
        ax.tick_params(axis="both", length=3.5, width=1, color="#222222", labelsize=15, labelcolor="#333333", pad=3)
        sns.despine(ax=ax)
        ax.spines["left"].set_linewidth(1.5)
        ax.spines["bottom"].set_linewidth(1.5)
        ax.spines["left"].set_color("#222222")
        ax.spines["bottom"].set_color("#222222")
        # comparison bracket
        tr = ax.get_xaxis_transform()
        ax.plot([0, 0, 1, 1], [.927, .955, .955, .927], transform=tr, color="#666666", lw=1.1, clip_on=False)
        ax.text(.5, .982, drug_p[i], transform=tr, fontsize=14.5, ha="center", va="center", color="#333333", clip_on=False)
        ylab_x = [54, 364, 673.6, 983.6, 1293.7, 1602][i]
        ov.text(ylab_x, 1771.5, drug + " senstivity", rotation=90, fontsize=15.8, ha="center", va="center", color="#333333")


def main():
    sns.set_theme(style="white")
    plt.rcParams["font.family"] = ["Liberation Sans", "DejaVu Sans"]
    fig = plt.figure(figsize=(W / 100, H / 100), dpi=100, facecolor="white")

    # overlay in pixel units for legends, strips and panel letters
    ov = fig.add_axes([0, 0, 1, 1], zorder=10)
    ov.set_xlim(0, W)
    ov.set_ylim(H, 0)
    ov.patch.set_alpha(0)
    ov.axis("off")

    draw_panel_a(fig, ov)
    draw_panel_b_circle(fig, ov)
    draw_panel_b_bars(fig, ov)
    draw_panel_c(fig)
    draw_panel_d(fig, ov)
    draw_panel_e(fig, ov)
    draw_panel_f(fig, ov)

    ov.text(1139, 934, "-Lg(PValue)", fontsize=7.6, ha="center", va="center", color="#555555", family=["Open Sans", "DejaVu Sans"])
    ov.text(1731, 958, "Enrich ratio", fontsize=7.2, ha="center", va="center", color="#555555", family=["Open Sans", "DejaVu Sans"])

    for letter, x, y in [("A", 4, 36), ("B", 766, 36), ("C", 766, 480), ("D", 5, 1028), ("E", 968, 1028), ("F", 3, 1589)]:
        ov.text(x, y, letter, fontsize=31, fontweight="bold", color="black", va="baseline")

    fig.savefig("out.png", dpi=100)


if __name__ == "__main__":
    main()
